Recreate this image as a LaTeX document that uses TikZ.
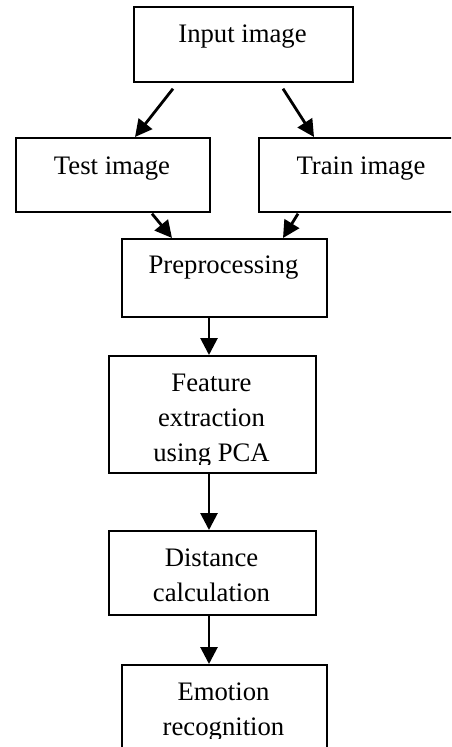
\documentclass[tikz,border=0pt]{standalone}
\usepackage{fontspec}
\setmainfont{Liberation Serif}
\usetikzlibrary{arrows.meta,calc}
\begin{document}
\begin{tikzpicture}[x=1pt,y=-1pt,
  box/.style={draw,line width=1.7pt,inner sep=0pt,anchor=north west},
  lbl/.style={font=\fontsize{26.7}{35}\selectfont,align=center,inner sep=0pt,anchor=base},
  arr/.style={line width=2.8pt,-{Triangle[length=17pt,width=17pt]}}]
\useasboundingbox (0,0) rectangle (451,747);
\clip (0,0) rectangle (451,747);
% boxes
\node[box,minimum width=219pt,minimum height=75pt] (in) at (133,6) {};
\node[box,minimum width=194pt,minimum height=74pt] (test) at (15,137) {};
\node[box,minimum width=206pt,minimum height=74pt] (train) at (258,137) {};
\node[box,minimum width=205pt,minimum height=78pt] (pre) at (121,238) {};
\node[box,minimum width=207pt,minimum height=117pt] (feat) at (108,355) {};
\node[box,minimum width=207pt,minimum height=84pt] (dist) at (108,530) {};
\node[box,minimum width=205pt,minimum height=120pt] (emo) at (121,664) {};
% labels (base anchor = baseline of the last line)
\node[lbl] (inT) at (242.5,42) {Input image};
\node[lbl] (testT) at (112,174) {Test image};
\node[lbl] (trainT) at (361,174) {Train image};
\node[lbl] (preT) at (223.5,273) {Preprocessing};
\begin{scope}
  \clip (108,355) rectangle (315,464);
  \node[lbl] (featT) at (211.5,461) {Feature\\extraction\\using PCA};
\end{scope}
\node[lbl] (distT) at (211.5,601) {Distance\\calculation};
\begin{scope}
  \clip (121,664) rectangle (326,738);
  \node[lbl] (emoT) at (223.5,735) {Emotion\\recognition};
\end{scope}
% arrows
\draw[arr] ($(in.south west)+(40,6)$) -- ($(test.north west)+(120,0)$);
\draw[arr] ($(in.south west)+(150,6)$) -- ($(train.north west)+(56,0)$);
\draw[arr] ($(test.south west)+(137,1)$) -- ($(pre.north west)+(51,0)$);
\draw[arr] ($(train.south west)+(40,1)$) -- ($(pre.north west)+(162,0)$);
\draw[arr] ($(pre.south west)+(88,0)$) -- ($(feat.north west)+(101,0)$);
\draw[arr] ($(feat.south west)+(101,0)$) -- ($(dist.north west)+(101,0)$);
\draw[arr] ($(dist.south west)+(101,0)$) -- ($(emo.north west)+(88,0)$);
\end{tikzpicture}
\end{document}
